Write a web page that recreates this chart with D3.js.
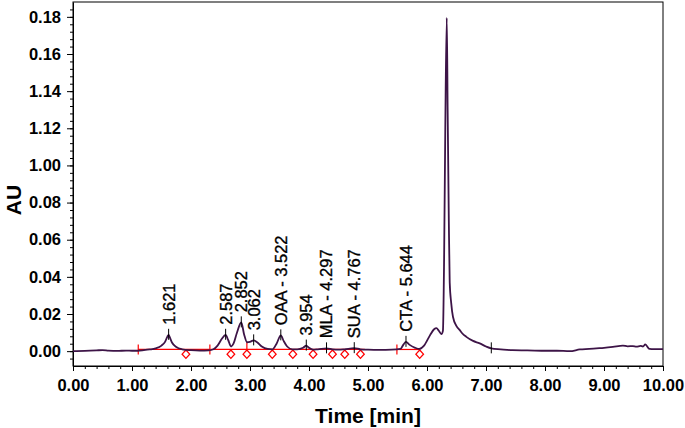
<!DOCTYPE html>
<html>
<head>
<meta charset="utf-8">
<script src="https://cdn.jsdelivr.net/npm/d3@7"></script>
<style>
  body { margin: 0; background: #fff; }
  svg { display: block; font-family: "Liberation Sans", Arial, sans-serif; }
</style>
</head>
<body>
<svg id="chart" width="685" height="428"></svg>
<script>
// chromatogram trace, time [min] vs AU
var times = [0.00, 0.20, 0.40, 0.50, 0.60, 0.75, 0.90, 1.00, 1.10, 1.20, 1.30, 1.40, 1.50, 1.56, 1.60, 1.621, 1.64, 1.68, 1.75, 1.85,
  2.00, 2.15, 2.30, 2.38, 2.45, 2.52, 2.587, 2.63, 2.68, 2.72, 2.78, 2.852, 2.90, 2.95, 3.00, 3.062, 3.12, 3.20, 3.30, 3.38,
  3.45, 3.522, 3.57, 3.63, 3.72, 3.80, 3.90, 3.954, 4.00, 4.07, 4.15, 4.297, 4.40, 4.50, 4.60, 4.767, 4.87, 5.00, 5.20, 5.40,
  5.55, 5.60, 5.644, 5.70, 5.80, 5.87, 5.95, 6.05, 6.12, 6.16, 6.20, 6.244, 6.27, 6.29, 6.31, 6.335, 6.35, 6.37, 6.385, 6.41,
  6.44, 6.50, 6.556, 6.60, 6.667, 6.78, 6.893, 7.00, 7.09, 7.25, 7.45, 7.70, 8.02, 8.20, 8.42, 8.59, 8.75, 8.87, 9.00, 9.15,
  9.32, 9.40, 9.49, 9.55, 9.62, 9.66, 9.70, 9.77, 9.85, 10.00];
var absorbance = [0.0000, 0.0001, 0.0004, 0.0006, 0.0003, 0.0001, 0.0003, 0.0002, 0.0002, 0.0005, 0.0009, 0.0015, 0.0030, 0.0050, 0.0078, 0.0088, 0.0075, 0.0045, 0.0022, 0.0010,
  0.0005, 0.0003, 0.0004, 0.0010, 0.0030, 0.0065, 0.0088, 0.0060, 0.0025, 0.0040, 0.0100, 0.0155, 0.0090, 0.0048, 0.0050, 0.0058, 0.0048, 0.0025, 0.0012, 0.0010,
  0.0040, 0.0085, 0.0055, 0.0025, 0.0010, 0.0010, 0.0018, 0.0030, 0.0018, 0.0008, 0.0010, 0.0015, 0.0010, 0.0008, 0.0010, 0.0016, 0.0010, 0.0008, 0.0007, 0.0008,
  0.0012, 0.0035, 0.0050, 0.0035, 0.0018, 0.0012, 0.0030, 0.0085, 0.0118, 0.0124, 0.0110, 0.0092, 0.0110, 0.0500, 0.1200, 0.1795, 0.1300, 0.0700, 0.0370, 0.0260,
  0.0185, 0.0135, 0.0113, 0.0095, 0.0077, 0.0055, 0.0042, 0.0025, 0.0015, 0.0010, 0.0005, 0.0004, 0.0002, 0.0002, 0.0000, 0.0009, 0.0012, 0.0015, 0.0018, 0.0023,
  0.0030, 0.0026, 0.0027, 0.0024, 0.0028, 0.0025, 0.0036, 0.0012, 0.0011, 0.0011];

// integrated peaks
var peakTimes = [1.621, 2.587, 2.852, 3.062, 3.522, 3.954, 4.297, 4.767, 5.644];
var peakNames = ['1.621', '2.587', '2.852', '3.062', 'OAA - 3.522', '3.954', 'MLA - 4.297', 'SUA - 4.767', 'CTA - 5.644'];
var extraMarks = [7.09];

// integration baseline (red)
var baselineLevel = 0.0009;
var baselineSegments = [[1.106, 2.32], [2.33, 4.945], [5.49, 5.876]];
var baselineTicks = [1.106, 2.32, 5.49];
var dropLines = [2.947];
var peakEnds = [1.914, 2.676, 2.947, 3.378, 3.726, 4.069, 4.398, 4.606, 4.872, 5.876];

var xTicks = [0, 1, 2, 3, 4, 5, 6, 7, 8, 9, 10];
var xTickLabels = ['0.00', '1.00', '2.00', '3.00', '4.00', '5.00', '6.00', '7.00', '8.00', '9.00', '10.00'];
var yTicks = [0, 0.02, 0.04, 0.06, 0.08, 0.10, 0.12, 0.14, 0.16, 0.18];
var yTickLabels = ['0.00', '0.02', '0.04', '0.06', '0.08', '1.00', '1.12', '1.14', '0.16', '0.18'];

var svg = d3.select('#chart');
var plotLeft = 73, plotRight = 663, plotTop = 2, plotBottom = 366;

var x = d3.scaleLinear().domain([0, 10]).range([plotLeft, plotRight]);
var y = d3.scaleLinear().domain([-0.008, 0.188]).range([plotBottom, plotTop]);

var trace = times.map(function (t, i) { return {t: t, v: absorbance[i]}; });
function valueAt(t) {
  var i = d3.bisector(function (d) { return d.t; }).center(trace, t);
  return trace[i].v;
}

// frame
svg.append('rect')
  .attr('x', plotLeft).attr('y', plotTop)
  .attr('width', plotRight - plotLeft).attr('height', plotBottom - plotTop)
  .attr('fill', 'none').attr('stroke', '#000').attr('stroke-width', 1);

// minor ticks
var xMinor = d3.range(0, 10.001, 0.2);
var yMinor = d3.range(-0.004, 0.1861, 0.004);
svg.append('g')
  .attr('transform', 'translate(0,' + plotBottom + ')')
  .call(d3.axisBottom(x).tickValues(xMinor).tickSize(3).tickSizeOuter(0).tickFormat(''))
  .call(function (g) { g.select('.domain').remove(); });
svg.append('g')
  .attr('transform', 'translate(' + plotLeft + ',0)')
  .call(d3.axisLeft(y).tickValues(yMinor).tickSize(3).tickSizeOuter(0).tickFormat(''))
  .call(function (g) { g.select('.domain').remove(); });

// major axes
var xAxis = svg.append('g')
  .attr('transform', 'translate(0,' + plotBottom + ')')
  .call(d3.axisBottom(x).tickValues(xTicks).tickSize(5).tickPadding(8).tickSizeOuter(0)
    .tickFormat(function (d, i) { return xTickLabels[i]; }));
var yAxis = svg.append('g')
  .attr('transform', 'translate(' + plotLeft + ',0)')
  .call(d3.axisLeft(y).tickValues(yTicks).tickSize(6).tickPadding(6).tickSizeOuter(0)
    .tickFormat(function (d, i) { return yTickLabels[i]; }));

[xAxis, yAxis].forEach(function (g) {
  g.selectAll('text')
    .attr('fill', '#000')
    .style('font-size', '16.5px')
    .style('font-weight', 'bold')
    .style('font-family', '"Liberation Sans", Arial, sans-serif');
  g.selectAll('line, path').attr('stroke', '#000');
});

// axis titles
svg.append('text')
  .attr('x', (plotLeft + plotRight) / 2).attr('y', 423)
  .attr('text-anchor', 'middle')
  .style('font-size', '21px').style('font-weight', 'bold')
  .text('Time [min]');
svg.append('text')
  .attr('transform', 'translate(21,200) rotate(-90)')
  .attr('text-anchor', 'middle')
  .style('font-size', '21px').style('font-weight', 'bold')
  .text('AU');

// red baseline
var red = svg.append('g').attr('stroke', '#ff0000').attr('fill', 'none').attr('stroke-width', 1.2);
red.selectAll('line.seg').data(baselineSegments).enter().append('line')
  .attr('class', 'seg')
  .attr('x1', function (d) { return x(d[0]); })
  .attr('x2', function (d) { return x(d[1]); })
  .attr('y1', y(baselineLevel)).attr('y2', y(baselineLevel));
red.selectAll('line.tick').data(baselineTicks).enter().append('line')
  .attr('class', 'tick')
  .attr('x1', function (d) { return x(d); }).attr('x2', function (d) { return x(d); })
  .attr('y1', y(baselineLevel) - 5).attr('y2', y(baselineLevel) + 5);
red.selectAll('line.drop').data(dropLines).enter().append('line')
  .attr('class', 'drop')
  .attr('x1', function (d) { return x(d); }).attr('x2', function (d) { return x(d); })
  .attr('y1', y(baselineLevel)).attr('y2', function (d) { return y(valueAt(d)); });
red.selectAll('path.end').data(peakEnds).enter().append('path')
  .attr('class', 'end')
  .attr('stroke-width', 1.3)
  .attr('d', function (d) {
    var cx = x(d), cy = y(baselineLevel) + 4.7;
    return 'M' + cx + ',' + (cy - 4.2) + 'L' + (cx + 3.8) + ',' + cy + 'L' + cx + ',' + (cy + 4.2) + 'L' + (cx - 3.8) + ',' + cy + 'Z';
  })
  .attr('fill', '#fff');

// trace
svg.append('path')
  .datum(trace)
  .attr('fill', 'none')
  .attr('stroke', '#3d1447')
  .attr('stroke-width', 1.8)
  .attr('stroke-linejoin', 'round')
  .attr('d', d3.line().x(function (d) { return x(d.t); }).y(function (d) { return y(d.v); }).curve(d3.curveMonotoneX));

// apex marks
var marks = svg.append('g').attr('stroke', '#000').attr('stroke-width', 1);
marks.selectAll('line').data(peakTimes.concat(extraMarks)).enter().append('line')
  .attr('x1', function (d) { return x(d); }).attr('x2', function (d) { return x(d); })
  .attr('y1', function (d) { return y(valueAt(d)) - 6; })
  .attr('y2', function (d) { return y(valueAt(d)) + 5; });

// peak labels
svg.append('g').selectAll('text').data(peakTimes).enter().append('text')
  .attr('transform', function (d) {
    return 'translate(' + x(d) + ',' + (y(valueAt(d)) - 10) + ') rotate(-90)';
  })
  .attr('dy', '0.36em')
  .attr('text-anchor', 'start')
  .style('font-size', '16.5px')
  .attr('fill', '#000')
  .attr('stroke', '#000')
  .attr('stroke-width', 0.35)
  .text(function (d, i) { return peakNames[i]; });
</script>
</body>
</html>
